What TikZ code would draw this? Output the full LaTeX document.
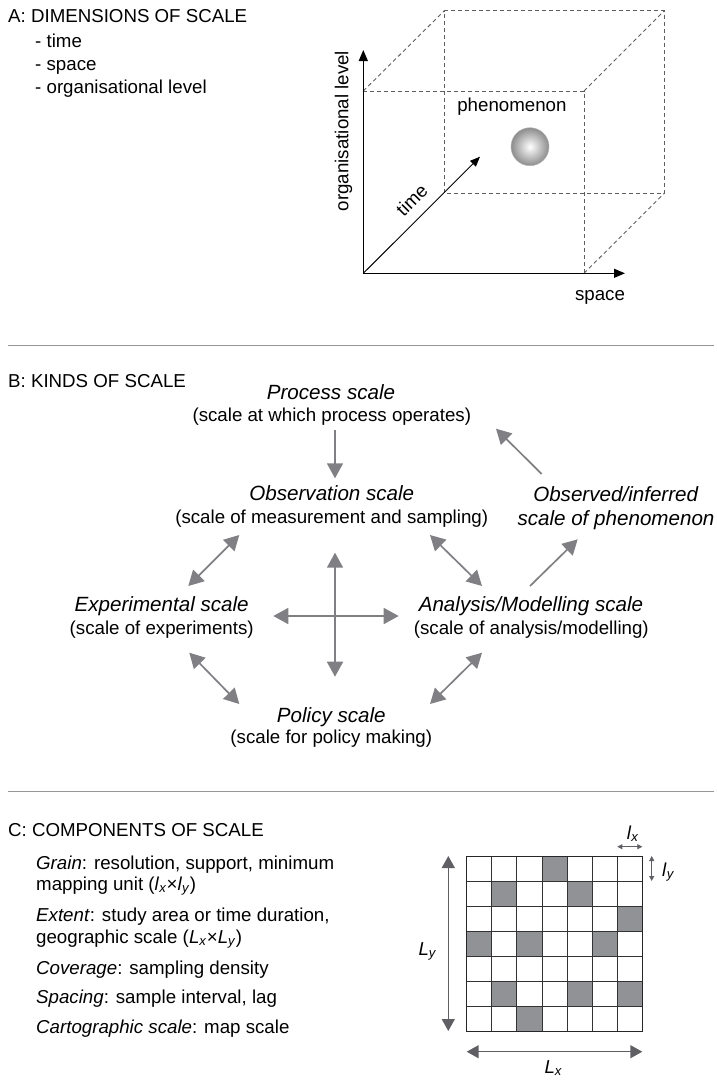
\documentclass[tikz,border=0pt]{standalone}
\usepackage{fontspec}
\setmainfont{Liberation Sans}
\usetikzlibrary{arrows.meta}
\definecolor{arrgray}{RGB}{128,128,132}
\definecolor{sepgray}{RGB}{150,150,150}
\definecolor{cellgray}{RGB}{145,146,150}
\definecolor{dimgray}{RGB}{95,95,100}
\definecolor{dashgray}{RGB}{95,95,95}
\newcommand\mysz{\fontsize{18.7}{22}\selectfont}
\newcommand\mybig{\fontsize{20.6}{24}\selectfont}
\begin{document}
\begin{tikzpicture}[x=1pt,y=-1pt,
  txt/.style={inner sep=0pt, anchor=base, font=\mysz},
  txtw/.style={inner sep=0pt, anchor=base west, font=\mysz},
  ktitle/.style={inner sep=0pt, anchor=base, font=\mybig\itshape},
  axis/.style={line width=1.2pt, -{Triangle[length=11pt,width=9pt]}},
  edge/.style={dashgray, line width=0.9pt, dash pattern=on 4pt off 3pt},
  flow/.style={arrgray, line width=1.7pt, -{Triangle[length=15pt,width=16pt]}},
  flow2/.style={arrgray, line width=1.7pt, {Triangle[length=15pt,width=16pt]}-{Triangle[length=15pt,width=16pt]}},
  dim/.style={dimgray, line width=1.5pt, {Triangle[length=12pt,width=13pt]}-{Triangle[length=12pt,width=13pt]}},
  dimsmall/.style={dimgray, line width=0.8pt, {Triangle[length=5pt,width=5pt]}-{Triangle[length=5pt,width=5pt]}},
  sep/.style={sepgray, line width=1pt}]
\useasboundingbox (0,0) rectangle (716,1080);

% ---------------- A ----------------
\node[txtw] (atitle) at (8,22) {A: DIMENSIONS OF SCALE};
\node[txtw] (a1) at (35,47) {- time};
\node[txtw] (a2) at (35,70) {- space};
\node[txtw] (a3) at (35,93) {- organisational level};

\coordinate (O) at (363.3,273.3);
\coordinate (ytip) at (363.3,50);
\coordinate (xtip) at (625,273.3);
\coordinate (ttip) at (480,156.7);
\coordinate (FTL) at (363.3,91);
\coordinate (FTR) at (584,91);
\coordinate (FBR) at (584,273.3);
\coordinate (BTL) at (444.3,10.7);
\coordinate (BTR) at (664.3,10.7);
\coordinate (BBR) at (664.3,193.3);
\coordinate (BBL) at (444.3,193.3);

\draw[edge] (FTL) -- (FTR) -- (FBR);
\draw[edge] (FTL) -- (BTL);
\draw[edge] (FTR) -- (BTR);
\draw[edge] (FBR) -- (BBR);
\draw[edge] (BTL) -- (BTR) -- (BBR) -- (BBL) -- cycle;

\draw[axis] (O) -- (ytip);
\draw[axis] (O) -- (xtip);
\draw[line width=0.9pt, -{Triangle[length=10pt,width=8pt]}] (O) -- (ttip);

\node[txt, rotate=90, anchor=center] (orglab) at (343.6,131) {organisational level};
\node[txt] (spacelab) at (600,300) {space};
\node[txt, rotate=45, anchor=center] (timelab) at (411.7,200) {time};
\node[txt] (phenlab) at (511.9,111.7) {phenomenon};
\shade[inner color=white, outer color=black!45, draw=black!30, line width=0.5pt] (530,146.7) circle (19);
\node[inner sep=0pt, minimum size=38pt, circle] (sphere) at (530,146.7) {};

\draw[sep] (8,345.3) -- (714,345.3);

% ---------------- B ----------------
\node[txtw] (btitle) at (8,387.3) {B: KINDS OF SCALE};

\node[ktitle] (proc) at (331,399.3) {Process scale};
\node[txt] (procd) at (331.8,421) {(scale at which process operates)};
\node[ktitle] (obs) at (331.8,500) {Observation scale};
\node[txt] (obsd) at (331.7,523.3) {(scale of measurement and sampling)};
\node[ktitle] (inf) at (615.7,501.7) {Observed/inferred};
\node[ktitle] (infd) at (616,525) {scale of phenomenon};
\node[ktitle] (exp) at (161.7,611.7) {Experimental scale};
\node[txt] (expd) at (161.7,634.3) {(scale of experiments)};
\node[ktitle] (ana) at (531,611.7) {Analysis/Modelling scale};
\node[txt] (anad) at (531.3,634.3) {(scale of analysis/modelling)};
\node[ktitle] (pol) at (331.3,722.7) {Policy scale};
\node[txt] (pold) at (331.3,743.3) {(scale for policy making)};

\coordinate (p1) at (335,430);
\coordinate (p2) at (335,478.3);
\coordinate (q1) at (541.7,474);
\coordinate (q2) at (496,428.7);
\coordinate (e1) at (188.3,586);
\coordinate (e2) at (239.3,535);
\coordinate (f1) at (189.3,652.7);
\coordinate (f2) at (239.3,704);
\coordinate (g1) at (430,535);
\coordinate (g2) at (482,586);
\coordinate (h1) at (530,586);
\coordinate (h2) at (577.7,539.3);
\coordinate (k1) at (482,652.7);
\coordinate (k2) at (430,704);
\coordinate (v1) at (335,552.7);
\coordinate (v2) at (335,676.7);
\coordinate (w1) at (273.3,616);
\coordinate (w2) at (398.7,616);

\draw[flow] (p1) -- (p2);
\draw[flow] (q1) -- (q2);
\draw[flow2] (e1) -- (e2);
\draw[flow2] (f1) -- (f2);
\draw[flow2] (g1) -- (g2);
\draw[flow] (h1) -- (h2);
\draw[flow2] (k1) -- (k2);
\draw[flow2] (v1) -- (v2);
\draw[flow2] (w1) -- (w2);

\draw[sep] (8,791) -- (714,791);

% ---------------- C ----------------
\node[txtw] (ctitle) at (8,836.7) {C: COMPONENTS OF SCALE};
\node[txtw] (c1) at (36,869.3) {\textit{Grain}: resolution, support, minimum};
\node[txtw] (c1b) at (36,890) {mapping unit (\textit{l}\textsubscript{\textit{x}}×\textit{l}\textsubscript{\textit{y}})};
\node[txtw] (c2) at (36,921.7) {\textit{Extent}: study area or time duration,};
\node[txtw] (c2b) at (36,943.3) {geographic scale (\textit{L}\textsubscript{\textit{x}}×\textit{L}\textsubscript{\textit{y}})};
\node[txtw] (c3) at (36,974) {\textit{Coverage}: sampling density};
\node[txtw] (c4) at (36,1003.3) {\textit{Spacing}: sample interval, lag};
\node[txtw] (c5) at (36,1033.3) {\textit{Cartographic scale}: map scale};

\foreach \r/\c in {0/3,1/1,1/4,2/6,3/0,3/2,3/5,5/1,5/4,5/6,6/2}
  \fill[cellgray] ({466.7+\c*25.086},{856+\r*25}) rectangle ++(25.086,25);
\foreach \i in {1,...,6} {
  \draw[black!80, line width=0.8pt] ({466.7+\i*25.086},856) -- ({466.7+\i*25.086},1031);
  \draw[black!80, line width=0.8pt] (466.7,{856+\i*25}) -- (642.3,{856+\i*25});
}
\draw[black!85, line width=1pt] (466.7,856) rectangle (642.3,1031);

\coordinate (ly1) at (448.3,856);
\coordinate (ly2) at (448.3,1031);
\coordinate (lx1) at (466.7,1051.7);
\coordinate (lx2) at (642.3,1051.7);
\coordinate (sx1) at (617.3,846.7);
\coordinate (sx2) at (642.3,846.7);
\coordinate (sy1) at (651.7,856);
\coordinate (sy2) at (651.7,881);
\draw[dim] (ly1) -- (ly2);
\draw[dim] (lx1) -- (lx2);
\draw[dimsmall] (sx1) -- (sx2);
\draw[dimsmall] (sy1) -- (sy2);

\node[txtw] (Lylab) at (418.3,955) {\textit{L}\textsubscript{\textit{y}}};
\node[txtw] (Lxlab) at (544.3,1073.3) {\textit{L}\textsubscript{\textit{x}}};
\node[txtw] (lxlab) at (626.7,839.3) {\textit{l}\textsubscript{\textit{x}}};
\node[txtw] (lylab) at (662,876) {\textit{l}\textsubscript{\textit{y}}};
\end{tikzpicture}
\end{document}
